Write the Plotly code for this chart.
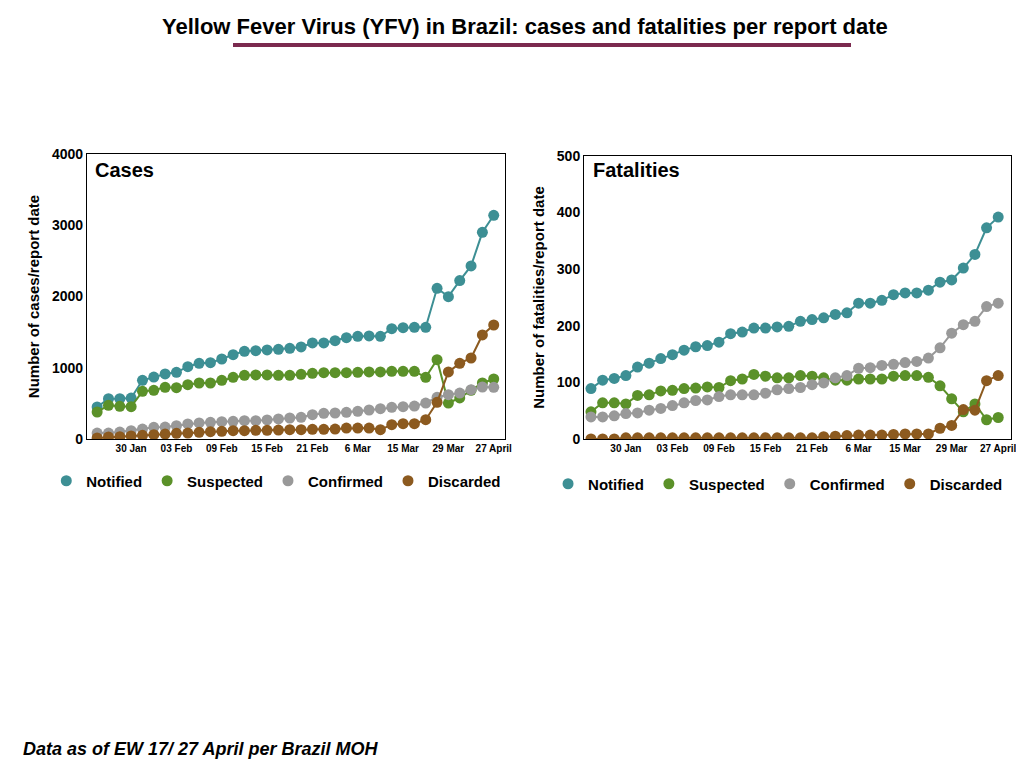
import plotly.graph_objects as go

# x positions are report-date indices (36 reports)
idx = list(range(36))
tick_pos = [3, 7, 11, 15, 19, 23, 27, 31, 35]
tick_text = ["30 Jan", "03 Feb", "09 Feb", "15 Feb", "21 Feb", "6 Mar", "15 Mar", "29 Mar", "27 April"]

cases_notified = [449, 566, 566, 575, 824, 870, 913, 936, 1015, 1062, 1071, 1123, 1184, 1231, 1240, 1250,
                  1259, 1273, 1292, 1348, 1348, 1380, 1422, 1441, 1446, 1441, 1549, 1563, 1568, 1568,
                  2115, 1998, 2223, 2429, 2901, 3140]
cases_suspected = [379, 473, 459, 454, 669, 683, 725, 721, 763, 786, 786, 824, 866, 894, 899, 899,
                   894, 894, 908, 922, 931, 931, 931, 936, 941, 941, 950, 950, 950, 866,
                   1114, 505, 576, 683, 786, 842]
cases_confirmed = [84, 84, 98, 117, 140, 164, 168, 187, 211, 225, 234, 243, 248, 257, 257, 267,
                   281, 295, 304, 342, 360, 365, 374, 388, 407, 426, 445, 454, 463, 505,
                   585, 622, 645, 693, 730, 725]
cases_discarded = [14, 28, 33, 42, 51, 61, 70, 80, 84, 94, 103, 108, 117, 117, 122, 122,
                   126, 131, 131, 136, 136, 140, 154, 154, 154, 131, 201, 215, 215, 271,
                   515, 941, 1062, 1137, 1460, 1600]

fat_notified = [89, 104, 107, 112, 127, 134, 142, 149, 157, 163, 165, 171, 186, 189, 196, 196,
                198, 199, 208, 211, 214, 220, 223, 240, 240, 245, 255, 258, 258, 263,
                277, 281, 302, 326, 373, 392]
fat_suspected = [48, 64, 64, 62, 77, 78, 85, 86, 89, 90, 92, 91, 103, 106, 114, 111,
                 108, 108, 112, 111, 108, 104, 104, 106, 106, 106, 111, 112, 112, 109,
                 94, 71, 48, 62, 34, 38]
fat_confirmed = [39, 39, 41, 45, 46, 51, 54, 59, 64, 68, 69, 75, 78, 78, 78, 81,
                 87, 89, 91, 96, 99, 108, 112, 125, 126, 130, 132, 135, 137, 143,
                 161, 187, 202, 208, 234, 240]
fat_discarded = [0, 0, 0, 2, 2, 2, 2, 2, 2, 2, 2, 2, 2, 2, 2, 2,
                 2, 2, 2, 2, 4, 5, 6, 7, 7, 7, 8, 9, 9, 9,
                 19, 24, 52, 51, 103, 112]

names = ["Notified", "Suspected", "Confirmed", "Discarded"]
colors = ["#3d8f94", "#5b9129", "#999999", "#8c5a1f"]
FONT = "Liberation Sans, Arial, sans-serif"

fig = go.Figure()


def add_series(name, color, ys, xa, ya, leg):
    # line drawn separately so the legend shows only the dot
    fig.add_trace(go.Scatter(x=idx, y=ys, mode="lines", line=dict(color=color, width=2),
                             showlegend=False, hoverinfo="skip", xaxis=xa, yaxis=ya))
    fig.add_trace(go.Scatter(x=idx, y=ys, name=name, mode="markers",
                             marker=dict(color=color, size=11), xaxis=xa, yaxis=ya, legend=leg))


for name, color, ys in zip(names, colors, [cases_notified, cases_suspected, cases_confirmed, cases_discarded]):
    add_series(name, color, ys, "x", "y", "legend")
for name, color, ys in zip(names, colors, [fat_notified, fat_suspected, fat_confirmed, fat_discarded]):
    add_series(name, color, ys, "x2", "y2", "legend2")

xcommon = dict(tickvals=tick_pos, ticktext=tick_text, showgrid=False, zeroline=False,
               showline=True, linecolor="black", linewidth=1, mirror=True, ticks="",
               tickfont=dict(size=10, family=FONT, color="black", weight="bold"))
ycommon = dict(showgrid=False, zeroline=False, showline=True, linecolor="black", linewidth=1,
               mirror=True, ticks="", tickfont=dict(size=14, family=FONT, color="black", weight="bold"))

fig.update_layout(
    width=1024, height=768,
    margin=dict(l=0, r=0, t=0, b=0, autoexpand=False),
    plot_bgcolor="white", paper_bgcolor="white",
    font=dict(family=FONT, color="black"),
    xaxis=dict(domain=[0.0771, 0.4854], range=[-0.9, 36], anchor="y", **xcommon),
    yaxis=dict(domain=[0.4388, 0.8099], range=[0, 4000], dtick=1000, anchor="x",
               title=dict(text="<b>Number of cases/report date</b>", font=dict(size=15), standoff=8), **ycommon),
    xaxis2=dict(domain=[0.5625, 0.9795], range=[-0.6, 36.1], anchor="y2", **xcommon),
    yaxis2=dict(domain=[0.4388, 0.8073], range=[0, 500], dtick=100, anchor="x2",
                title=dict(text="<b>Number of fatalities/report date</b>", font=dict(size=15), standoff=8), **ycommon),
    legend=dict(orientation="h", x=0.262, xanchor="center", y=1 - 473 / 768, yanchor="middle",
                font=dict(size=15, weight="bold")),
    legend2=dict(orientation="h", x=0.752, xanchor="center", y=1 - 476 / 768, yanchor="middle",
                 font=dict(size=15, weight="bold")),
    annotations=[
        dict(text="<b>Yellow Fever Virus (YFV) in Brazil: cases and fatalities per report date</b>",
             x=0.505, y=1 - 18 / 768, xref="paper", yref="paper", showarrow=False,
             yanchor="middle", font=dict(size=22)),
        dict(text="<b>Cases</b>", x=0.083, y=1 - 162 / 768, xref="paper", yref="paper", showarrow=False,
             xanchor="left", yanchor="middle", font=dict(size=20)),
        dict(text="<b>Fatalities</b>", x=0.569, y=1 - 162 / 768, xref="paper", yref="paper", showarrow=False,
             xanchor="left", yanchor="middle", font=dict(size=20)),
        dict(text="<b><i>Data as of EW 17/ 27 April per Brazil MOH</i></b>", x=0.013, y=1 - 741 / 768,
             xref="paper", yref="paper", showarrow=False, xanchor="left", yanchor="middle",
             font=dict(size=18)),
    ],
    shapes=[dict(type="line", xref="paper", yref="paper", x0=225 / 1024, x1=843 / 1024,
                 y0=1 - 37 / 768, y1=1 - 37 / 768, line=dict(color="#7b2a4f", width=4))],
)

fig.write_html("out.html")
